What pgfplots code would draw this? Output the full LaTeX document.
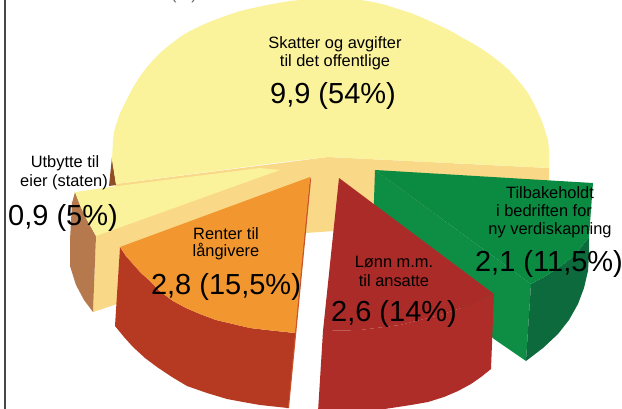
\documentclass[border=0pt]{standalone}
\usepackage{pgfplots}
\pgfplotsset{compat=1.18}
\usepackage{fontspec}
\setmainfont{Liberation Sans}
\definecolor{ylw}{HTML}{FBF29C}
\definecolor{pale}{HTML}{F9D888}
\definecolor{org}{HTML}{F2962F}
\definecolor{orgdk}{HTML}{C9552A}
\definecolor{redw}{HTML}{B63A22}
\definecolor{lonnw}{HTML}{AE2D28}
\definecolor{lonnt}{HTML}{AA2B27}
\definecolor{grn}{HTML}{0B8A41}
\definecolor{grnl}{HTML}{0E8E45}
\definecolor{grnd}{HTML}{0C6A3D}
\definecolor{brn}{HTML}{B5794D}
\definecolor{brnd}{HTML}{8E4F24}
\definecolor{txt}{HTML}{242424}
\newcommand{\sm}{\fontsize{16.4}{18}\selectfont}
\newcommand{\bg}{\fontsize{29}{32}\selectfont}
\begin{document}
\begin{tikzpicture}
\useasboundingbox (0,0) rectangle (622pt,408pt);
\clip (0,0) rectangle (622pt,408pt);
\begin{axis}[at={(0,0)},anchor=south west,scale only axis,width=622pt,height=408pt,
  xmin=0,xmax=622,ymin=0,ymax=408,y dir=reverse,hide axis,no markers,clip=true,
  every node/.style={text=txt,inner sep=0pt,anchor=center}]
% frame
\addplot[draw=black!72,line width=2pt] coordinates {(4.5,-2) (4.5,410)};
% pale walls under the large slice and the small slice
\addplot[fill=pale,draw=none] coordinates {(96,236) (93,312) (117,304) (120,247) (305,233) (320,232) (334,231) (400,225) (549,181) (549,168) (328,157) (116,184)} --cycle;
% brown walls
\addplot[fill=brnd,draw=none] coordinates {(112,157) (116,185) (109,186)} --cycle;
\addplot[fill=brn,draw=none] coordinates {(75,192) (72,203) (70,240) (70,266) (76,285) (84,300) (93,312) (96,236) (86,218) (80,205)} --cycle;
% large slice top
\addplot[fill=ylw,draw=none] coordinates {(112,160) (112.5,150) (113,140) (114,132) (116,125) (120,113) (125,103) (130,93) (135,84) (141,75) (147,67) (154,59) (162,51) (171,44) (180,37) (189,31.5) (198,27) (207,23) (217,19) (228,15) (240,11) (253,8) (267,5) (278,3) (290,1) (300,0) (311,-1) (323,-2) (336,-2) (348,-1) (361,0) (373,2) (386,5) (398,9) (411,13) (423,18) (436,24) (449,30) (461,37) (472,43) (482,49) (492,56) (501,63) (509,70) (516,78) (522,85) (528,93) (533,102) (537,110) (541,119) (544,127) (546,134) (548,140) (549,150) (549,168) (328,157) (283,162) (116,184)} --cycle;
% small slice top
\addplot[fill=ylw,draw=none] coordinates {(75,192) (110,187) (260,168) (280,170) (96,236) (86,218) (80,205)} --cycle;
% Renter
\addplot[fill=orgdk,draw=none] coordinates {(310,177) (311,180) (289,408) (286,408)} --cycle;
\addplot[fill=redw,draw=none] coordinates {(120,247) (126,256) (133,264) (141,273) (150,281) (161,292) (173,301) (186,308) (200,314) (216,320) (233,324) (250,328) (267,330) (295,333) (288,408) (260,405) (243,402) (227,399) (207,393) (187,386) (172,377) (157,367) (145,358) (133,347) (124,337) (115,326)} --cycle;
\addplot[fill=org,draw=none] coordinates {(120,247) (310,177) (295,333) (267,330) (250,328) (233,324) (216,320) (200,314) (186,308) (173,301) (161,292) (150,281) (141,273) (133,264) (126,256)} --cycle;
% green
\addplot[fill=grnl,draw=none] coordinates {(375,170) (531,284) (526,361) (494,339) (373,230)} --cycle;
\addplot[fill=grnd,draw=none] coordinates {(531,284) (544,277) (555,270) (565,263) (575,255) (589,237) (589,255) (588,271) (584,288) (578,304) (569,320) (558,334) (543,348) (526,361)} --cycle;
\addplot[fill=grn,draw=none] coordinates {(375,170) (593,183) (589,237) (575,255) (565,263) (555,270) (544,277) (531,284)} --cycle;
% Lonn
\addplot[fill=lonnw,draw=none] coordinates {(323,331) (360,330) (400,325) (440,315) (470,305) (494,294) (491,369) (481,377) (471,384) (458,391) (444,397) (428,402) (411,405) (378,410) (318,412)} --cycle;
\addplot[fill=lonnt,draw=none] coordinates {(339,178) (494,294) (470,305) (440,315) (400,325) (360,330) (323,331)} --cycle;
% labels
\node[font=\sm,text=black!60,anchor=base] at (axis cs:184,-1) {(\%)};
\node[font=\sm] at (axis cs:335,44) {Skatter og avgifter};
\node[font=\sm] at (axis cs:335,62) {til det offentlige};
\node[font=\bg] at (axis cs:333,96) {9,9 (54\%)};
\node[font=\sm] at (axis cs:65,163) {Utbytte til};
\node[font=\sm] at (axis cs:64,182) {eier (staten)};
\node[font=\bg] at (axis cs:63,218) {0,9 (5\%)};
\node[font=\sm] at (axis cs:226,234) {Renter til};
\node[font=\sm] at (axis cs:226,252) {långivere};
\node[font=\bg] at (axis cs:226,287) {2,8 (15,5\%)};
\node[font=\sm] at (axis cs:394,262) {Lønn m.m.};
\node[font=\sm] at (axis cs:394,281) {til ansatte};
\node[font=\bg] at (axis cs:394,314) {2,6 (14\%)};
\node[font=\sm] at (axis cs:550,193) {Tilbakeholdt};
\node[font=\sm] at (axis cs:544,211) {i bedriften for};
\node[font=\sm] at (axis cs:550,230) {ny verdiskapning};
\node[font=\bg] at (axis cs:549,264) {2,1 (11,5\%)};
\end{axis}
\end{tikzpicture}
\end{document}
